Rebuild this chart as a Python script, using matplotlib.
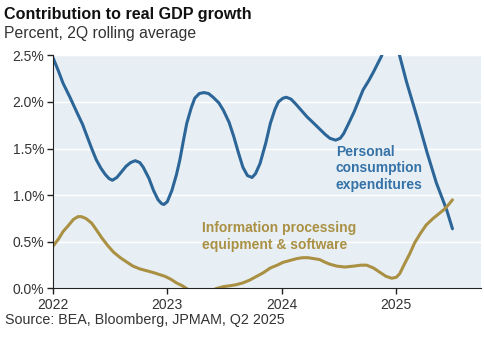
import matplotlib
matplotlib.use("Agg")
import matplotlib.pyplot as plt
import numpy as np

plt.rcParams['font.family'] = ['Liberation Sans', 'DejaVu Sans']

# values (year fraction, percent)
pce_t = [2022.00, 2022.05, 2022.09, 2022.15, 2022.21, 2022.26, 2022.30, 2022.34,
         2022.38, 2022.42, 2022.46, 2022.49, 2022.52, 2022.56, 2022.60, 2022.64,
         2022.68, 2022.72, 2022.76, 2022.79, 2022.84, 2022.88, 2022.92, 2022.95,
         2022.97, 2023.00, 2023.04, 2023.08, 2023.11, 2023.14, 2023.17, 2023.21,
         2023.24, 2023.28, 2023.32, 2023.36, 2023.40, 2023.45, 2023.49, 2023.54,
         2023.58, 2023.62, 2023.66, 2023.70, 2023.74, 2023.77, 2023.81, 2023.86,
         2023.90, 2023.94, 2023.97, 2024.01, 2024.04, 2024.08, 2024.12, 2024.17,
         2024.22, 2024.28, 2024.33, 2024.38, 2024.42, 2024.47, 2024.51, 2024.54,
         2024.58, 2024.63, 2024.67, 2024.71, 2024.76, 2024.80, 2024.87, 2024.91,
         2024.95, 2024.99, 2025.03, 2025.09, 2025.18, 2025.27, 2025.35, 2025.44,
         2025.49]
pce_v = [2.48, 2.33, 2.20, 2.05, 1.89, 1.76, 1.63, 1.50,
         1.38, 1.29, 1.22, 1.18, 1.16, 1.19, 1.25, 1.31,
         1.35, 1.37, 1.35, 1.30, 1.18, 1.05, 0.95, 0.91,
         0.90, 0.93, 1.05, 1.22, 1.38, 1.58, 1.77, 1.94,
         2.04, 2.09, 2.10, 2.09, 2.05, 1.99, 1.91, 1.78,
         1.63, 1.46, 1.30, 1.21, 1.19, 1.23, 1.34, 1.56,
         1.77, 1.92, 2.00, 2.04, 2.05, 2.03, 1.98, 1.91,
         1.84, 1.77, 1.71, 1.65, 1.61, 1.59, 1.61, 1.66,
         1.76, 1.89, 2.01, 2.13, 2.23, 2.32, 2.49, 2.62,
         2.70, 2.64, 2.49, 2.21, 1.84, 1.45, 1.13, 0.84,
         0.64]

ipe_t = [2022.00, 2022.05, 2022.09, 2022.14, 2022.18, 2022.22, 2022.25, 2022.29,
         2022.34, 2022.38, 2022.43, 2022.48, 2022.53, 2022.59, 2022.65, 2022.70,
         2022.76, 2022.82, 2022.88, 2022.93, 2022.98, 2023.03, 2023.08, 2023.13,
         2023.18, 2023.24, 2023.30, 2023.37, 2023.43, 2023.49, 2023.55, 2023.60,
         2023.66, 2023.72, 2023.78, 2023.84, 2023.90, 2023.96, 2024.01, 2024.07,
         2024.13, 2024.18, 2024.23, 2024.28, 2024.33, 2024.38, 2024.42, 2024.48,
         2024.55, 2024.63, 2024.69, 2024.74, 2024.80, 2024.86, 2024.91, 2024.96,
         2025.00, 2025.03, 2025.07, 2025.12, 2025.16, 2025.21, 2025.26, 2025.32,
         2025.36, 2025.41, 2025.45, 2025.49]
ipe_v = [0.45, 0.53, 0.61, 0.68, 0.74, 0.77, 0.77, 0.75,
         0.70, 0.63, 0.54, 0.46, 0.39, 0.33, 0.28, 0.24,
         0.21, 0.19, 0.17, 0.15, 0.13, 0.10, 0.06, 0.03,
         -0.01, -0.04, -0.05, -0.03, 0.00, 0.02, 0.03, 0.04,
         0.06, 0.09, 0.13, 0.17, 0.22, 0.25, 0.28, 0.30,
         0.32, 0.33, 0.33, 0.32, 0.31, 0.28, 0.26, 0.24,
         0.23, 0.24, 0.25, 0.25, 0.22, 0.17, 0.13, 0.11,
         0.12, 0.16, 0.26, 0.38, 0.49, 0.59, 0.68, 0.75,
         0.79, 0.84, 0.89, 0.95]

years = [2022, 2023, 2024, 2025]
yticks = [0.0, 0.5, 1.0, 1.5, 2.0, 2.5]

blue = '#2c6698'
gold = '#a99043'
bg = '#e8eff4'
txt = '#333333'

fig = plt.figure(figsize=(4.84, 3.38), dpi=100)
ax = fig.add_axes([0.109, 0.1465, 0.885, 0.69])
ax.set_facecolor(bg)

ax.plot(pce_t, pce_v, color=blue, lw=2.2, solid_capstyle='round', solid_joinstyle='round')
ax.plot(ipe_t, ipe_v, color=gold, lw=2.2, solid_capstyle='round', solid_joinstyle='round')

ax.set_xlim(2022, 2025.74)
ax.set_ylim(0, 2.5)
ax.set_yticks(yticks)
ax.set_yticklabels([f"{v:.1f}%" for v in yticks])
ax.set_xticks(years)
ax.set_xticklabels([str(y) for y in years])
ax.grid(axis='y', color='white', lw=1.0)
ax.set_axisbelow(True)

for s in ['top', 'right']:
    ax.spines[s].set_visible(False)
ax.spines['left'].set_color('#222222')
ax.spines['bottom'].set_color('#222222')
ax.tick_params(axis='both', colors='#222222', labelcolor=txt, labelsize=10,
               length=4, width=1, direction='out', pad=3)
ax.tick_params(axis='y', pad=2)

ax.text(2024.47, 1.535, "Personal\nconsumption\nexpenditures", color='#3472a8',
        fontsize=10, fontweight='bold', va='top', ha='left', linespacing=1.2)
ax.text(2023.30, 0.72, "Information processing\nequipment & software", color=gold,
        fontsize=10, fontweight='bold', va='top', ha='left', linespacing=1.25)

fig.text(0.008, 0.958, "Contribution to real GDP growth", fontsize=11.6,
         fontweight='bold', color='#111111', va='center', ha='left')
fig.text(0.008, 0.902, "Percent, 2Q rolling average", fontsize=11.3,
         color=txt, va='center', ha='left')
fig.text(0.01, 0.052, "Source: BEA, Bloomberg, JPMAM, Q2 2025", fontsize=10.3,
         color=txt, va='center', ha='left')

fig.savefig("out.png", dpi=100)
